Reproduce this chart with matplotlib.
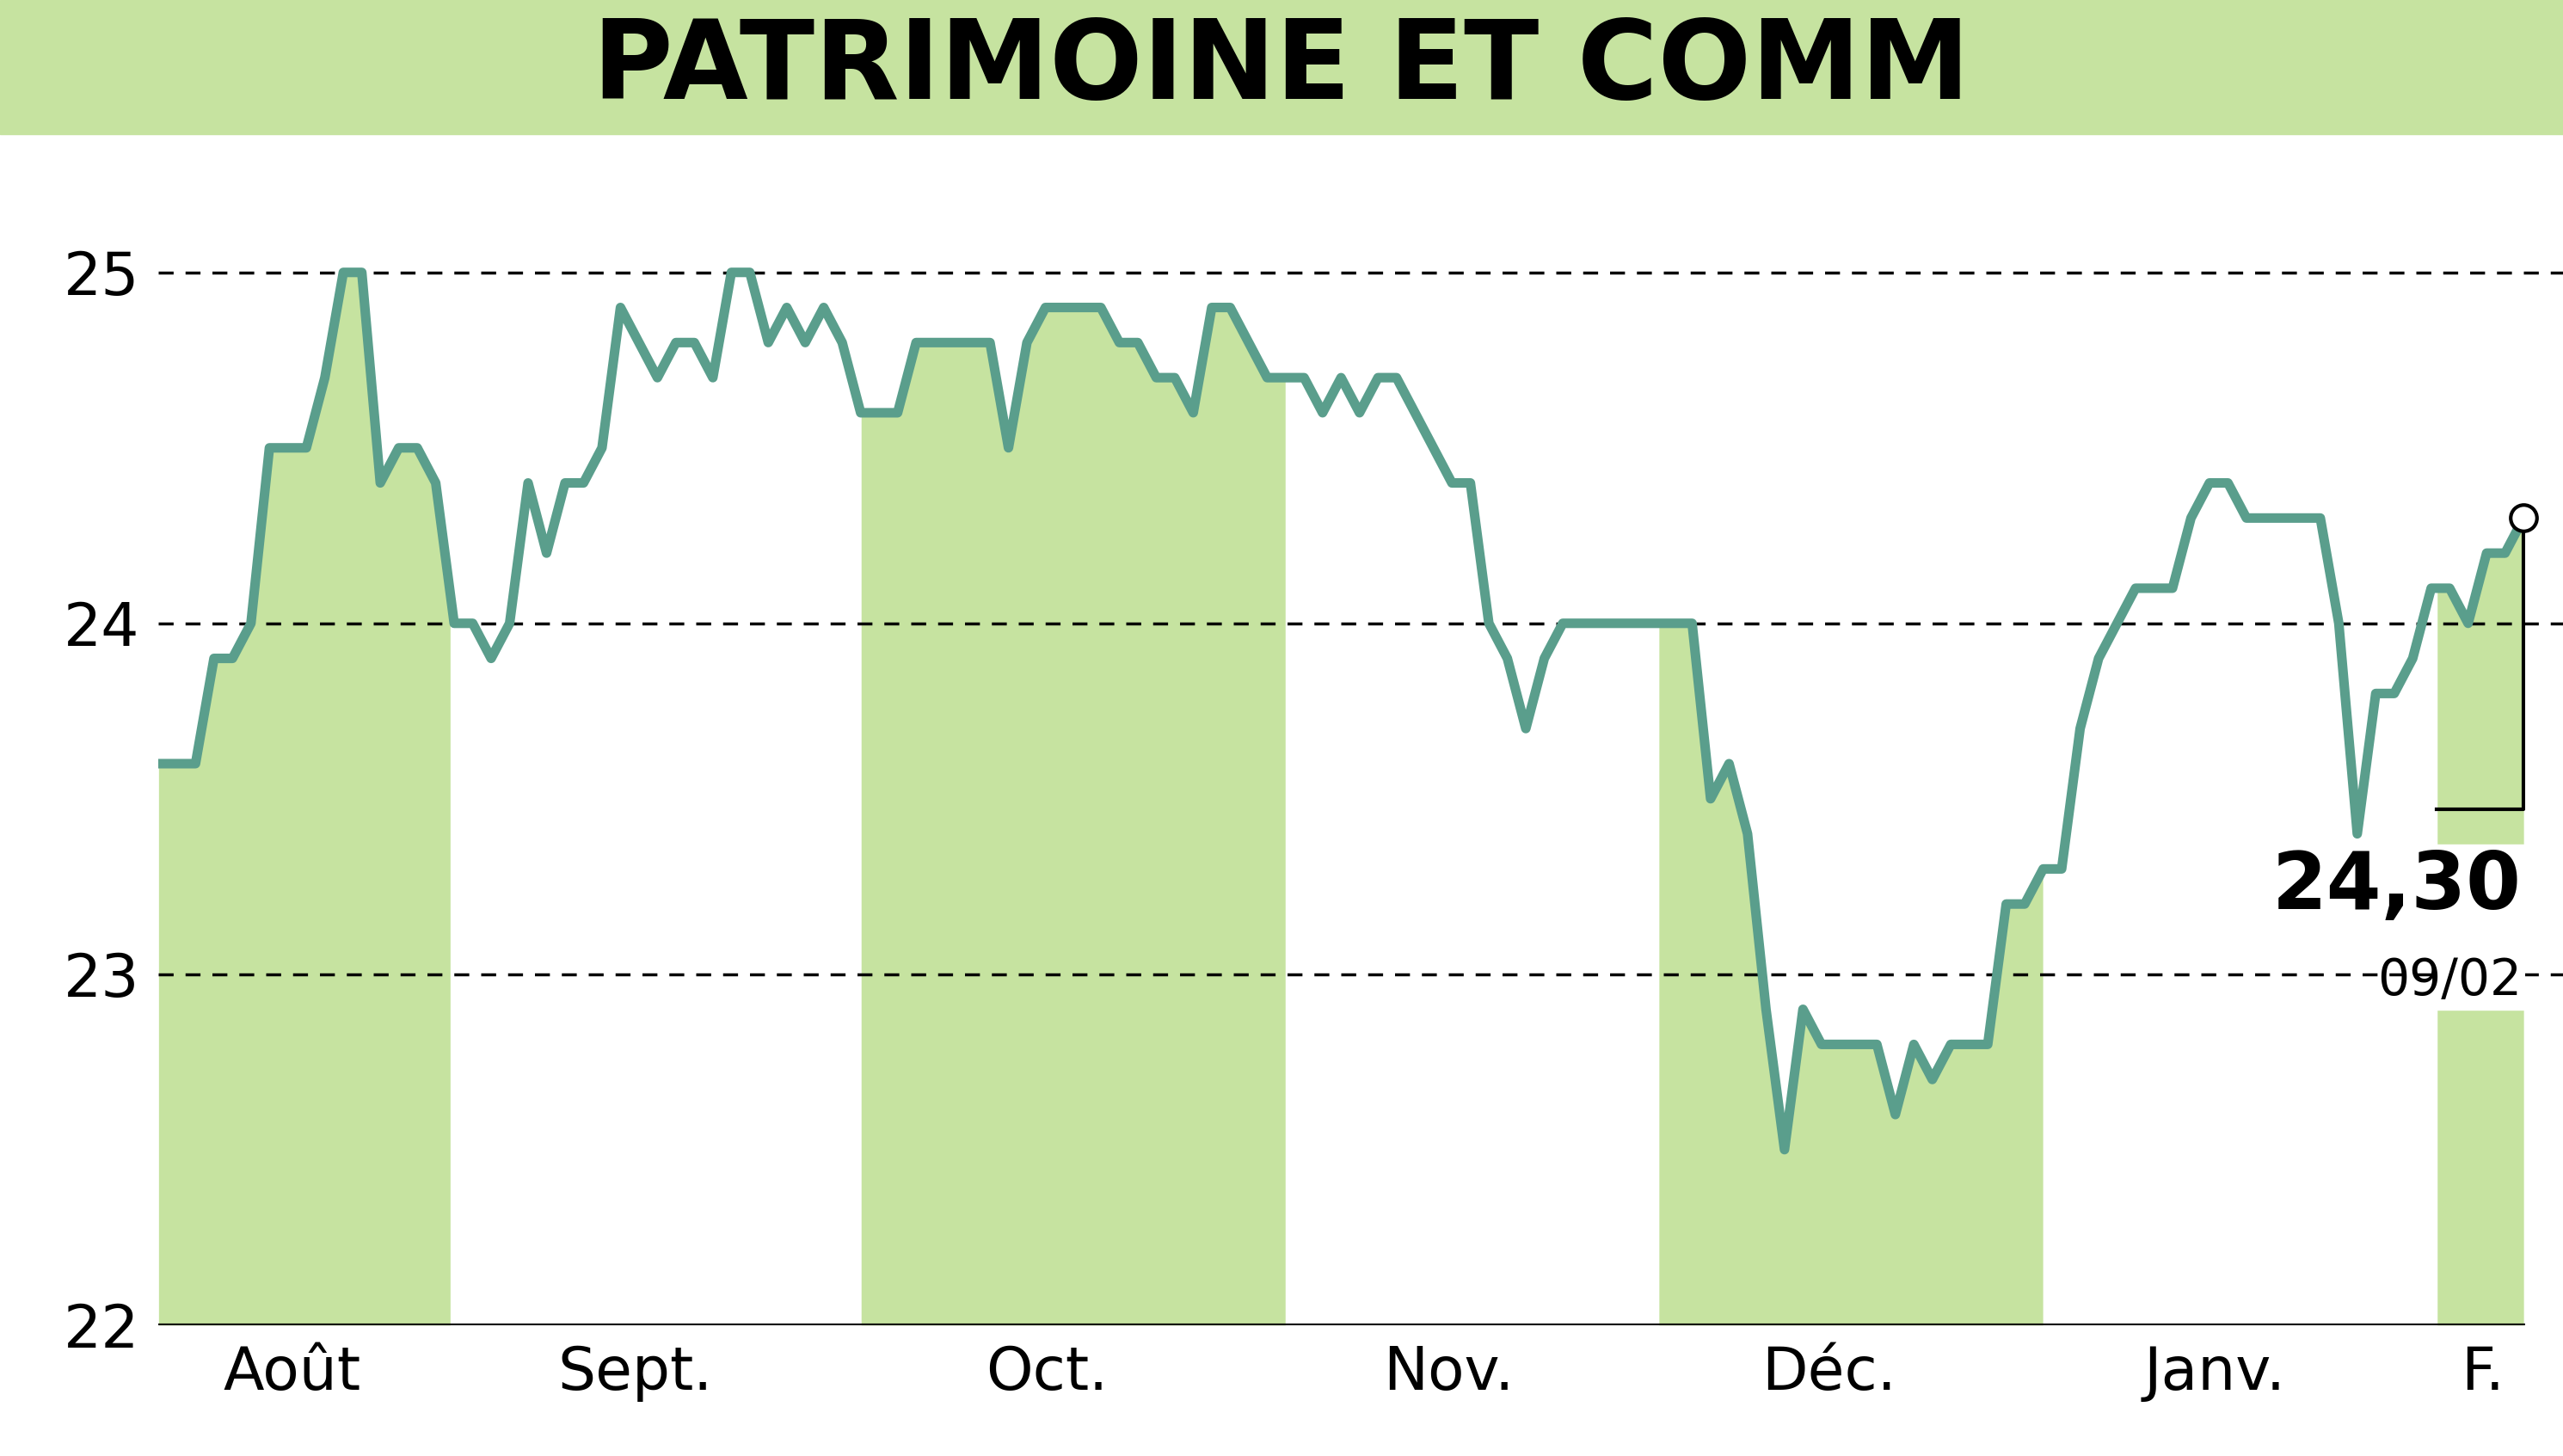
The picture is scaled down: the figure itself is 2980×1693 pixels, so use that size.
import numpy as np
import matplotlib
matplotlib.use("Agg")
import matplotlib.pyplot as plt

# trading-day index and closing price (vertices of the line)
days = [0, 2, 3, 4, 5, 6, 8, 9, 10, 11, 12, 13, 14, 15, 16, 17, 18, 19, 20, 21,
        22, 23, 24, 25, 26, 27, 28, 29, 30, 31, 32, 33, 34, 35, 36, 37, 38, 40, 41, 43,
        45, 46, 47, 48, 51, 52, 53, 54, 55, 56, 57, 58, 60, 62, 63, 64, 65, 66, 67, 70,
        71, 72, 73, 74, 75, 76, 83, 84, 85, 86, 87, 88, 89, 90, 93, 94, 95, 96, 97, 99,
        100, 101, 102, 103, 104, 105, 106, 107, 109, 110, 111, 112, 113, 117, 118, 119, 120, 121, 122, 123,
        124, 125, 126, 127, 128]
prices = [23.6, 23.6, 23.9, 23.9, 24.0, 24.5, 24.5, 24.7, 25.0, 25.0, 24.4, 24.5, 24.5, 24.4, 24.0, 24.0, 23.9, 24.0, 24.4, 24.2,
          24.4, 24.4, 24.5, 24.9, 24.8, 24.7, 24.8, 24.8, 24.7, 25.0, 25.0, 24.8, 24.9, 24.8, 24.9, 24.8, 24.6, 24.6, 24.8, 24.8,
          24.8, 24.5, 24.8, 24.9, 24.9, 24.8, 24.8, 24.7, 24.7, 24.6, 24.9, 24.9, 24.7, 24.7, 24.6, 24.7, 24.6, 24.7, 24.7, 24.4,
          24.4, 24.0, 23.9, 23.7, 23.9, 24.0, 24.0, 23.5, 23.6, 23.4, 22.9, 22.5, 22.9, 22.8, 22.8, 22.6, 22.8, 22.7, 22.8, 22.8,
          23.2, 23.2, 23.3, 23.3, 23.7, 23.9, 24.0, 24.1, 24.1, 24.3, 24.4, 24.4, 24.3, 24.3, 24.0, 23.4, 23.8, 23.8, 23.9, 24.1,
          24.1, 24.0, 24.2, 24.2, 24.3]

# month boundaries (in trading days) and labels
month_edges = [0, 15.8, 38.0, 61.0, 81.2, 102.0, 123.3, 128.1]
month_labels = ["Août", "Sept.", "Oct.", "Nov.", "Déc.", "Janv.", "F."]
label_pos = [7.2, 25.8, 48.1, 69.8, 90.4, 111.3, 125.8]
yticks = [22, 23, 24, 25]

LINE = "#5a9e8c"
FILL = "#c6e3a0"

fig = plt.figure(figsize=(29.8, 16.93), dpi=100)
# title band
fig.patches.append(plt.Rectangle((0, 1 - 82 / 890), 1, 82 / 890, transform=fig.transFigure,
                                 color=FILL, zorder=0))
fig.text(0.5, 1 - 42 / 890, "PATRIMOINE ET COMM", ha="center", va="center",
         fontsize=92, fontweight="bold", family="DejaVu Sans")

ax = fig.add_axes([97 / 1568, 1 - 810 / 890, (1545 - 97) / 1568, (810 - 100) / 890])
ax.set_xlim(0, 128.1)
ax.set_ylim(22, 22 + (810 - 100) / 214.5)

fine = np.linspace(0, 128, 4000)
fy = np.interp(fine, days, prices)
for i in range(0, len(month_edges) - 1, 2):
    m = (fine >= month_edges[i]) & (fine <= month_edges[i + 1])
    ax.fill_between(fine, 22, fy, where=m, color=FILL, lw=0, zorder=1)

for y in yticks[1:]:
    ax.axhline(y, color="black", ls=(0, (5, 4)), lw=2.5, zorder=2, xmax=1.02, clip_on=False)
ax.axhline(22, color="black", lw=3, zorder=2)

ax.plot(days, prices, color=LINE, lw=8, zorder=3, solid_joinstyle="round")
ax.plot(days[-1], prices[-1], "o", ms=22, mfc="white", mec="black", mew=3, zorder=5, clip_on=False)

# last value annotation
ax.plot([days[-1], days[-1], 123.3], [prices[-1], 23.47, 23.47], color="black", lw=3, zorder=4)
ax.add_patch(plt.Rectangle((123.3, 22.9), 4.8, 0.47, color="white", zorder=3.5))
ax.text(127.9, 23.25, "24,30", ha="right", va="center", fontsize=66, fontweight="bold", zorder=6)
ax.text(127.9, 22.98, "09/02", ha="right", va="center", fontsize=42, zorder=6)

for s in ax.spines.values():
    s.set_visible(False)
ax.set_yticks(yticks)
ax.set_yticklabels([str(v) for v in yticks], fontsize=50)
ax.set_xticks(label_pos)
ax.set_xticklabels(month_labels, fontsize=50)
ax.tick_params(length=0, pad=16)

fig.savefig("out.png", dpi=100)
